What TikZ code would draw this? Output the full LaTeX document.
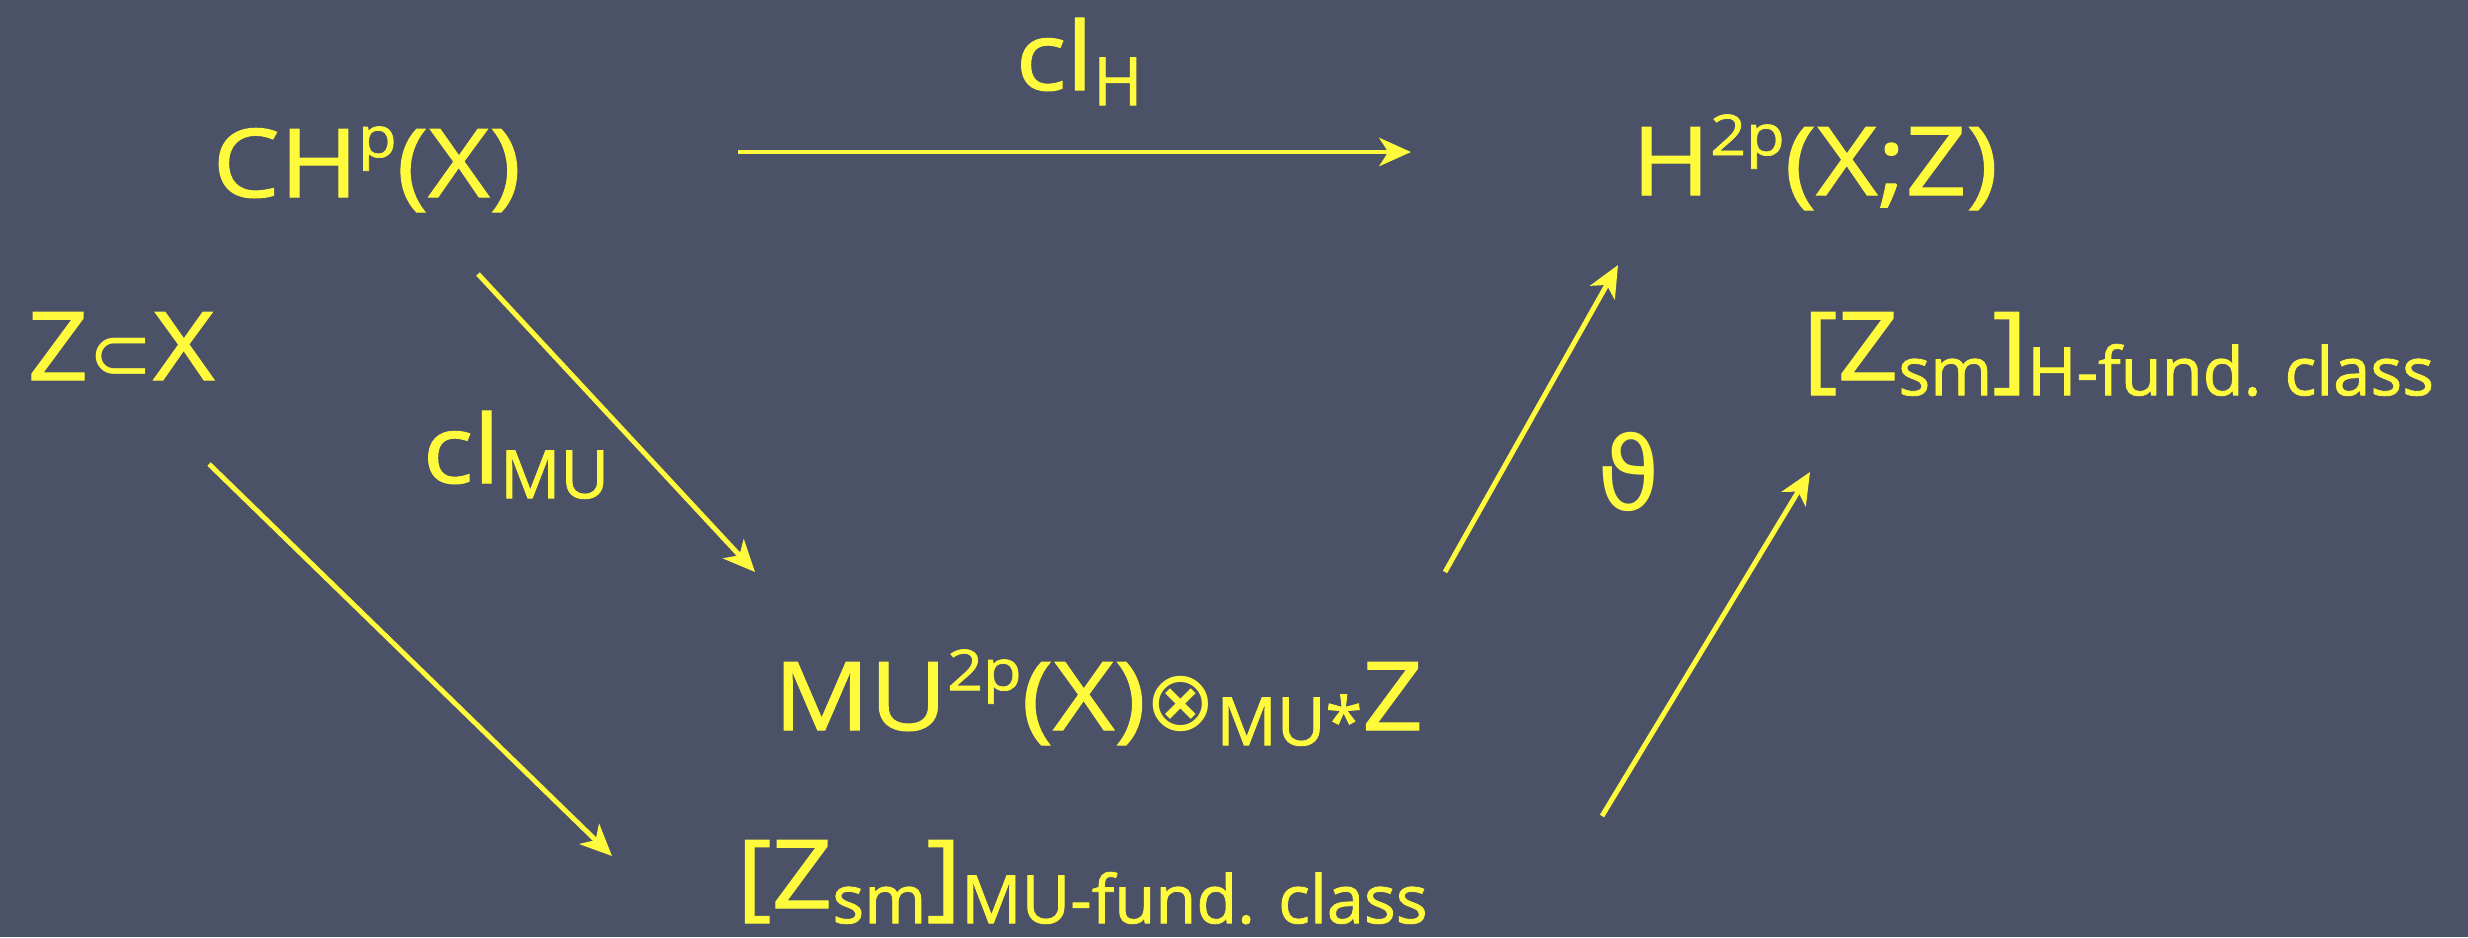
\documentclass[tikz,border=0pt]{standalone}
\usepackage{fontspec}
\setmainfont{Open Sans}[FakeStretch=1.12, FakeBold=1.2]
\newfontfamily\subf{Open Sans}[FakeBold=1.2]
\newfontfamily\symf{DejaVu Sans}
\usepackage{tikz}
\usetikzlibrary{arrows.meta,calc}
\definecolor{tafel}{RGB}{75,82,103}
\definecolor{kreide}{HTML}{FFFB3C}
\newcommand{\hi}[1]{\raisebox{0.42em}{\fontsize{16}{18}\selectfont #1}}
\newcommand{\lo}[1]{\raisebox{-0.16em}{\subf\fontsize{19}{22}\selectfont #1}}

\begin{document}
\begin{tikzpicture}[
          txt/.style={text=kreide, inner sep=0pt, anchor=base west,
                      font=\fontsize{27}{32}\selectfont},
          fl/.style={-{Stealth[length=9pt, width=8pt, inset=2.5pt]}, draw=kreide, line width=1.4pt}
        ]
        \fill[tafel] (0,0) rectangle (24.68,-9.37);
        \useasboundingbox (0,0) rectangle (24.68,-9.37);
        \node[txt] (clH) at (10.15,-0.90) {cl\lo{H}};
        \node[txt] (chp) at (2.12,-1.97) {CH\hi{p}(X)};
        \node[txt] (h2p) at (16.31,-1.95) {H\hi{2p}(X;Z)};
        \node[txt] (zx) at (0.27,-3.80) {Z{\symf\fontsize{22}{26}\selectfont ⊂}X};
        \node[txt] (clMU) at (4.22,-4.83) {cl\lo{MU}};
        \node[txt] (theta) at (15.97,-5.10) {{\symf\fontsize{29}{32}\selectfont ϑ}};
        \node[txt] (zH) at (18.02,-3.80) {[Z\lo{sm}]\lo{H-fund. class}};
        \node[txt] (mu) at (7.73,-7.30) {MU\hi{2p}(X){\symf\fontsize{24}{28}\selectfont ⊗}\lo{MU*}Z};
        \node[txt] (zMU) at (7.36,-9.08) {[Z\lo{sm}]\lo{MU-fund. class}};
        \draw[fl] ($(chp.base west)+(5.26,0.45)$) -- ($(h2p.base west)+(-2.20,0.43)$);
        \draw[fl] ($(chp.base west)+(2.66,-0.77)$) -- ($(mu.base west)+(-0.18,1.58)$);
        \draw[fl] ($(zx.base west)+(1.82,-0.84)$) -- ($(zMU.base west)+(-1.24,0.52)$);
        \draw[fl] ($(mu.base west)+(6.72,1.58)$) -- ($(h2p.base west)+(-0.13,-0.70)$);
        \draw[fl] ($(zMU.base west)+(8.66,0.92)$) -- ($(zH.base west)+(0.08,-0.92)$);
      \end{tikzpicture}
\end{document}
